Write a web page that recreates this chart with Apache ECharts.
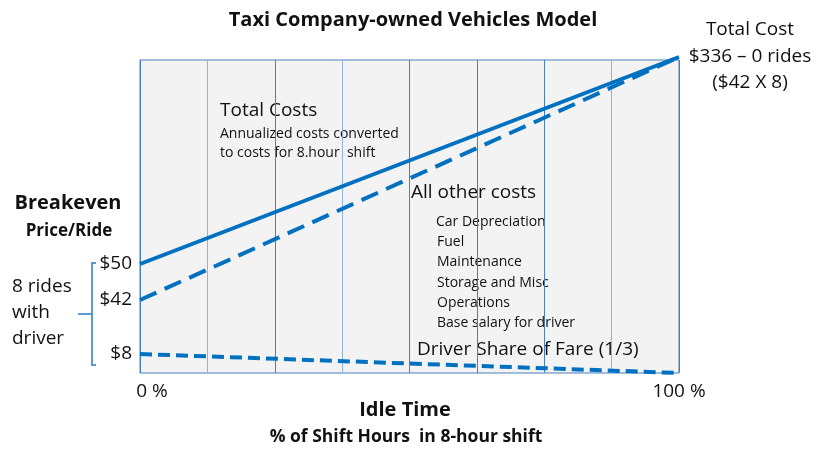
<!DOCTYPE html>
<html>
<head>
<meta charset="utf-8">
<script src="https://cdn.jsdelivr.net/npm/echarts@6/dist/echarts.min.js"></script>
<style>
  html, body { margin: 0; padding: 0; background: #fff; }
  #chart { width: 829px; height: 450px; }
</style>
</head>
<body>
<div id="chart"></div>
<script>
// idle time, % of shift hours
const idlePct = [0, 100]
// schematic heights (plot units, 0 = bottom of plot)
const totalCosts = [109, 316]
const otherCosts = [73, 316]
const driverShare = [19, 0]

const yTickValues = [19, 73, 109]
const yTickLabels = ['$8', '$42', '$50']
const xTickValues = [0, 100]
const xTickLabels = ['0 %', '100 %']

const costItems = ['Car Depreciation', 'Fuel', 'Maintenance', 'Storage and Misc', 'Operations', 'Base salary for driver']

const FONT = 'Open Sans'
const BLUE = '#0070c0'

const chart = echarts.init(document.getElementById('chart'))

function pairs(ys) {
  return idlePct.map((x, i) => [x, ys[i]])
}

// text placed by its vertical middle
function txt(x, y, text, size, opts) {
  return {
    type: 'text', x: x, y: y,
    style: Object.assign({
      text: text, fontFamily: FONT, fontSize: size, fill: '#111', verticalAlign: 'middle'
    }, opts || {})
  }
}

const graphics = [
  txt(413, 20, 'Taxi Company-owned Vehicles Model', 20, { fontWeight: 'bold', align: 'center' }),
  txt(750, 30, 'Total Cost', 19, { align: 'center' }),
  txt(750, 57, '$336 \u2013 0 rides', 19, { align: 'center' }),
  txt(750, 83, '($42 X 8)', 19, { align: 'center' }),
  txt(220, 111, 'Total Costs', 19),
  txt(220, 134, 'Annualized costs converted', 14),
  txt(220, 153, 'to costs for 8.hour  shift', 14),
  txt(411, 193, 'All other costs', 19),
  txt(417, 350, 'Driver Share of Fare (1/3)', 19),
  txt(68, 203, 'Breakeven', 20, { fontWeight: 'bold', align: 'center' }),
  txt(69, 231, 'Price/Ride', 17, { fontWeight: 'bold', align: 'center' }),
  txt(12, 287, '8 rides', 19),
  txt(12, 313, 'with', 19),
  txt(12, 339, 'driver', 19),
  txt(405, 410, 'Idle Time', 20, { fontWeight: 'bold', align: 'center' }),
  txt(406, 437, '% of Shift Hours  in 8-hour shift', 17.5, { fontWeight: 'bold', align: 'center' }),
  {
    type: 'polyline',
    shape: { points: [[96, 263], [92, 263], [92, 365], [96, 365]] },
    style: { stroke: '#5b9bd5', lineWidth: 2, fill: null }
  },
  {
    type: 'line',
    shape: { x1: 78, y1: 314, x2: 92, y2: 314 },
    style: { stroke: '#5b9bd5', lineWidth: 2 }
  }
]
costItems.forEach((s, i) => {
  graphics.push(txt(i === 0 ? 436 : 437, 222 + i * 20.2, s, 14))
})

const option = {
  animation: false,
  grid: {
    left: 140, right: 150, top: 60, bottom: 77,
    show: true, backgroundColor: '#f3f3f3', borderColor: '#4a7ebb', borderWidth: 1
  },
  xAxis: {
    type: 'value', min: 0, max: 100, interval: 12.5,
    axisLine: { show: false },
    axisTick: { show: false },
    axisLabel: {
      customValues: xTickValues,
      margin: 9,
      formatter: v => v === 0 ? '{l|' + xTickLabels[0] + '}' : '{r|' + xTickLabels[1] + '}',
      rich: {
        l: { fontFamily: FONT, fontSize: 19, color: '#111', padding: [0, 0, 0, 24] },
        r: { fontFamily: FONT, fontSize: 19, color: '#111' }
      }
    },
    splitLine: {
      show: true,
      lineStyle: {
        width: 1,
        color: ['#4a7ebb', '#8eb4e3', '#4a7ebb', '#8eb4e3', '#4a7ebb', '#4a7ebb', '#4a7ebb', '#8eb4e3', '#4a7ebb']
      }
    }
  },
  yAxis: {
    type: 'value', min: 0, max: 313,
    axisLine: { show: false },
    axisTick: { show: false },
    splitLine: { show: false },
    axisLabel: {
      customValues: yTickValues,
      margin: 8,
      fontFamily: FONT, fontSize: 19, color: '#111',
      formatter: v => yTickLabels[yTickValues.indexOf(v)]
    }
  },
  series: [
    {
      name: 'Total Costs', type: 'line', data: pairs(totalCosts), clip: false,
      symbol: 'none', lineStyle: { color: BLUE, width: 4 }, z: 3
    },
    {
      name: 'All other costs', type: 'line', data: pairs(otherCosts), clip: false,
      symbol: 'none', lineStyle: { color: BLUE, width: 4, type: [18, 9] }, z: 2
    },
    {
      name: 'Driver Share of Fare', type: 'line', data: pairs(driverShare), clip: false,
      symbol: 'none', lineStyle: { color: BLUE, width: 4, type: [12, 6] }, z: 2
    }
  ],
  graphic: graphics
}

chart.setOption(option)
</script>
</body>
</html>
